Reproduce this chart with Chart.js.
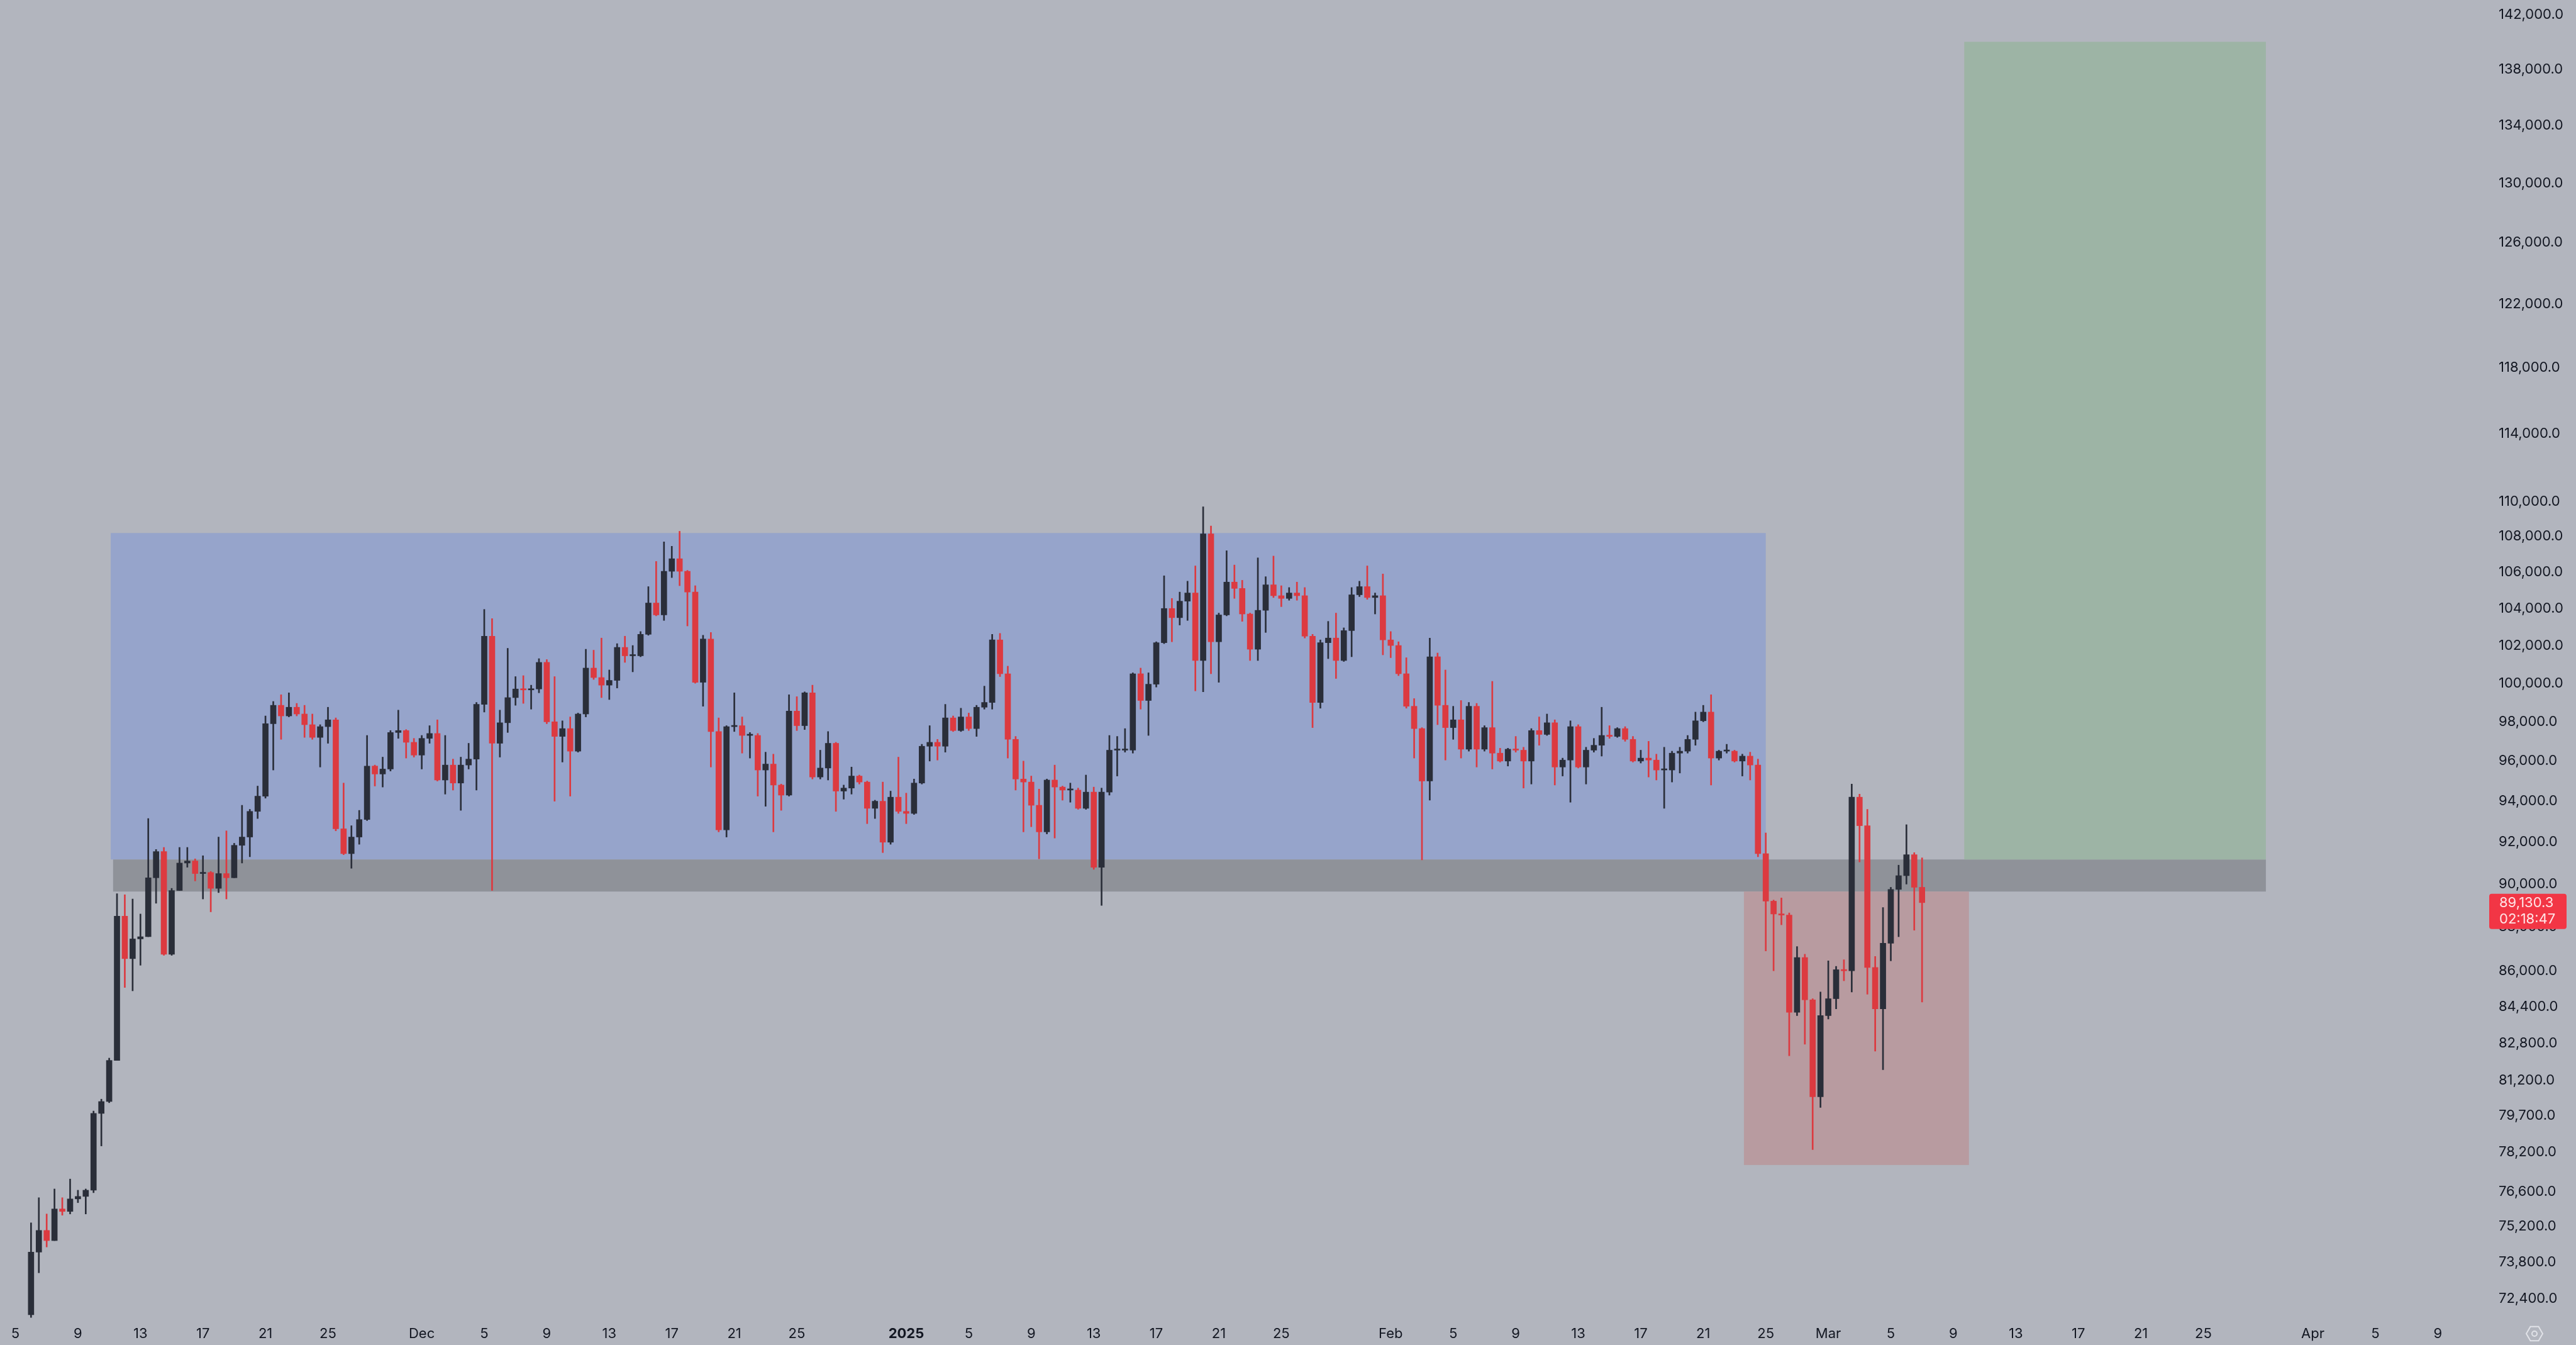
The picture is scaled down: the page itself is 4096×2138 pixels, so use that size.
<!DOCTYPE html>
<html>
<head>
<meta charset="utf-8">
<script src="https://cdn.jsdelivr.net/npm/chart.js@4.4.1/dist/chart.umd.min.js"></script>
<style>
  html, body { margin: 0; padding: 0; background: #b2b5be; }
  #wrap { width: 4096px; height: 2138px; position: relative; }
</style>
</head>
<body>
<div id="wrap"><canvas id="chart"></canvas></div>
<script>
// BTC/USD, 12h candles from Nov 6 2024 to Mar 7 2025. Open of each candle = previous close.
const firstOpen = 71800;
const firstDay = 5;      // days after Nov 1 2024 00:00
const stepDays = 0.5;

const novHigh = [75350,76350,75700,76700,76350,77100,76650,76700,79900,80400,
  82150,89550,89500,89300,88600,93150,91650,91750,89800,91750,
  91750,91200,91350,90600,92250,92550,91950,93800,93600,94750,
  98300,99050,99400,99500,98950,98850,98400,97850,98750,98200,
  94900,92800,93550,97300,95800,96200,97550,98600,97600,97150];
const novLow = [71700,73400,74400,74650,75650,75700,76150,75700,76550,78450,
  80250,82050,85250,85100,86250,87550,89100,86700,86700,89700,
  90800,90150,89300,88700,89600,89300,90300,91000,91300,93150,
  94150,95550,97100,98250,98300,97200,97100,95700,96900,92550,
  91400,90750,91900,93050,94750,94700,95500,97150,96150,96200];
const novClose = [74200,75050,74650,75900,75800,76300,76400,76650,79800,80300,
  82050,88500,86550,87450,87550,90300,91550,86750,89700,91000,
  91100,90500,90550,89800,90500,90300,91850,92250,93500,94250,
  97900,98850,98300,98750,98400,97850,97200,97750,98100,92650,
  91450,92250,93100,95750,95350,95600,97450,97550,96950,96300];

const decHigh = [97300,97800,98100,97300,96100,96200,96900,99000,103950,103450,
  98600,101850,100350,100400,99900,101300,101250,100350,98050,98250,
  98450,101800,101750,102400,100700,102100,102500,102000,102750,105200,
  106600,107700,107450,108300,106100,105250,102550,102700,98200,97800,
  99500,98250,97450,97400,96450,96350,94850,99400,99300,99550,
  99900,96550,97500,96950,94800,95700,95300,95000,94050,94950,
  94500,96200];
const decLow = [95600,96900,95000,94350,94550,93550,95600,94550,98500,89700,
  96200,97450,98850,98950,98650,99500,97900,94000,95950,94250,
  96450,98250,100200,99250,99150,99750,101100,100600,101400,102550,
  103600,103350,105700,105250,103050,100000,98800,95700,92500,92250,
  97500,96400,96150,94250,93750,92500,93550,94250,97550,97600,
  95100,95100,95050,93500,94100,94350,94850,92900,93150,91500,
  91900,93400];
const decClose = [97150,97400,95050,95800,94900,95800,96100,98900,102500,96900,
  97950,99250,99700,99650,99700,101100,98000,97250,97650,96500,
  98400,100800,100300,99900,100150,101900,101450,101450,102600,104300,
  103650,106050,106750,106050,104900,100050,102350,97500,92600,97750,
  97800,97300,97300,95550,95850,94800,94300,98550,97800,99500,
  95200,95650,96900,94500,94650,95250,94950,93650,94000,92000,
  94200,93500];

const janHigh = [94400,95100,96850,97800,97100,98900,98300,98700,98450,98850,
  99850,102600,102650,100900,97250,96000,95250,94600,95100,95800,
  94750,94900,94650,95300,94700,94650,97300,97250,97650,100550,
  100800,100550,102200,105800,104550,104900,105500,106350,109700,108600,
  103750,107200,106400,105550,103750,106800,105750,106900,105250,105150,
  105450,105150,102600,102300,103300,103750,102950,105150,105500,106350,
  104850,105900];
const janLow = [92900,93350,94850,96000,96050,96450,97500,97500,97550,97250,
  98650,98650,100350,96150,94550,92500,92750,91200,92400,92200,
  94050,93950,93600,93600,90700,89000,94300,95250,96450,96400,
  98650,97300,99800,102100,102200,103100,103350,99600,99550,100500,
  100050,103600,104550,103300,101200,101200,102700,104600,104100,104450,
  104450,102400,97700,98700,101300,100250,101150,101400,104650,104500,
  103700,101500];
const janClose = [93400,94900,96750,96950,96750,98200,97550,98250,97650,98750,
  99000,102300,100500,97100,95100,94950,93800,92500,95050,94700,
  94550,94550,93650,94450,90800,94450,96550,96550,96550,100500,
  99100,99950,102150,104000,103500,104400,104850,101200,108150,102200,
  103650,105450,105100,103700,101800,103900,105300,104700,104550,104850,
  104700,102500,99000,102150,102400,101200,102800,104750,105200,104600,
  104700,102300];

const febHigh = [102750,102200,101350,99200,97700,102400,101600,100700,98800,99100,
  99000,98950,97800,100100,96650,96650,97250,96700,97650,98250,
  98400,98100,96150,98050,97850,96700,97150,98750,97800,97700,
  97750,97250,96550,97000,96350,96700,96500,96700,97300,98500,
  98850,99400,96550,96850,96550,96350,96450,96100,92450,89250,
  89350,88650,87100,86750,84750,85050];
const febLow = [101350,100400,98700,96150,91150,94050,97850,96050,97100,96150,
  96500,95700,96500,95600,95950,95750,96450,94650,94850,96800,
  97300,94800,95250,93950,95650,94850,96450,96250,97150,97200,
  97000,95950,95900,95200,95050,93650,94950,95400,96400,96800,
  98000,94800,96050,96400,95950,95250,95050,91300,86900,86000,
  88100,82250,84000,82750,78300,80050];
const febClose = [102000,100500,98800,97650,95000,101400,98850,97700,98100,96600,
  98800,96600,97700,96400,96000,96600,96550,96000,97550,97350,
  97950,95700,96050,97750,95700,96550,96800,97300,97250,97650,
  97100,96000,96150,96050,95550,95550,96400,96500,97100,98050,
  98500,96150,96500,96500,96000,96250,95800,91450,89200,88600,
  88550,84150,86600,84700,80500,84000];

const marHigh = [86450,86200,86500,94850,94350,93600,86650,88900,89850,90900,92850,91500,91250];
const marLow = [83850,84300,85550,85050,91050,84950,82450,81650,86450,87550,90000,87850,84600];
const marClose = [84750,86050,86000,94200,92800,86150,84300,87250,89750,90400,91400,89850,89130.3];

// last price tag
const lastPriceText = '89,130.3';
const countdownText = '02:18:47';

// drawn zones (time in days after Nov 1 2024, prices in USD)
const zoneStart = [10.1, 10.25, 114.6, 128.7];
const zoneEnd = [116.0, 148.0, 129.0, 148.0];
const zoneLow = [91170, 89650, 77670, 91170];
const zoneHigh = [108200, 91170, 89650, 140000];

// axis ticks
const priceTicks = [142000, 138000, 134000, 130000, 126000, 122000, 118000, 114000, 110000,
  108000, 106000, 104000, 102000, 100000, 98000, 96000, 94000, 92000, 90000, 88000,
  86000, 84400, 82800, 81200, 79700, 78200, 76600, 75200, 73800, 72400];
const dateTickDays = [4, 8, 12, 16, 20, 24, 30, 34, 38, 42, 46, 50, 54, 61, 65, 69, 73, 77, 81, 85,
  92, 96, 100, 104, 108, 112, 116, 120, 124, 128, 132, 136, 140, 144, 151, 155, 159];
const dateTickLabels = ['5', '9', '13', '17', '21', '25', 'Dec', '5', '9', '13', '17', '21', '25',
  '2025', '5', '9', '13', '17', '21', '25', 'Feb', '5', '9', '13', '17', '21', '25',
  'Mar', '5', '9', '13', '17', '21', '25', 'Apr', '5', '9'];

// visible window
const viewStart = 3.014, viewEnd = 162.29;
const priceMin = 71611, priceMax = 143105;

// colors
const upColor = '#2a2e39';
const downColor = '#dc3a40';
const zoneColors = ['#96a4cb', '#8f9299', '#b89ba0', '#9db4a5'];
const bgColor = '#b2b5be';
const textColor = '#131722';

const highs = [].concat(novHigh, decHigh, janHigh, febHigh, marHigh);
const lows = [].concat(novLow, decLow, janLow, febLow, marLow);
const closes = [].concat(novClose, decClose, janClose, febClose, marClose);

const candles = closes.map((c, i) => ({
    t: firstDay + i * stepDays,
    o: i === 0 ? firstOpen : closes[i - 1],
    h: highs[i],
    l: lows[i],
    c: c
}));
const candleColors = candles.map(k => k.c >= k.o ? upColor : downColor);

const bgPlugin = {
    id: 'bg',
    beforeDraw(chart) {
        const ctx = chart.ctx;
        ctx.save();
        ctx.fillStyle = bgColor;
        ctx.fillRect(0, 0, chart.width, chart.height);
        ctx.restore();
    }
};

const zonePlugin = {
    id: 'zones',
    beforeDatasetsDraw(chart) {
        const { ctx, chartArea, scales: { x, y } } = chart;
        ctx.save();
        ctx.beginPath();
        ctx.rect(chartArea.left, chartArea.top, chartArea.width, chartArea.height);
        ctx.clip();
        zoneStart.forEach((s, i) => {
            const x0 = x.getPixelForValue(s);
            const x1 = x.getPixelForValue(zoneEnd[i]);
            const y0 = y.getPixelForValue(zoneHigh[i]);
            const y1 = y.getPixelForValue(zoneLow[i]);
            ctx.fillStyle = zoneColors[i];
            ctx.fillRect(x0, y0, x1 - x0, y1 - y0);
        });
        ctx.restore();
    }
};

const priceTagPlugin = {
    id: 'priceTag',
    afterDraw(chart) {
        const { ctx, chartArea, scales: { y } } = chart;
        const last = candles[candles.length - 1];
        const py = y.getPixelForValue(last.c);
        const left = chartArea.right;
        ctx.save();
        ctx.fillStyle = '#f23645';
        ctx.beginPath();
        ctx.roundRect(left, py - 14, 123, 56, 4);
        ctx.fill();
        ctx.fillStyle = '#ffe4e6';
        ctx.font = '22px Inter';
        ctx.textAlign = 'left';
        ctx.textBaseline = 'middle';
        ctx.fillText(lastPriceText, left + 16, py + 1);
        ctx.fillText(countdownText, left + 16, py + 27);

        // settings icon in the corner
        const cx = left + 72, cy = chart.height - 18, r = 13;
        ctx.strokeStyle = 'rgba(240,242,246,0.75)';
        ctx.lineWidth = 2;
        ctx.beginPath();
        for (let k = 0; k < 6; k++) {
            const a = Math.PI / 3 * k;
            const px = cx + r * Math.cos(a), pyy = cy + r * Math.sin(a);
            if (k === 0) ctx.moveTo(px, pyy); else ctx.lineTo(px, pyy);
        }
        ctx.closePath();
        ctx.stroke();
        ctx.beginPath();
        ctx.arc(cx, cy, 4, 0, Math.PI * 2);
        ctx.stroke();
        ctx.restore();
    }
};

new Chart(document.getElementById('chart').getContext('2d'), {
    type: 'bar',
    data: {
        datasets: [
            {
                label: 'body',
                data: candles.map(k => ({ x: k.t, y: [k.o, k.c] })),
                backgroundColor: candleColors,
                barThickness: 9,
                minBarLength: 2,
                grouped: false,
                order: 0
            },
            {
                label: 'wick',
                data: candles.map(k => ({ x: k.t, y: [k.l, k.h] })),
                backgroundColor: candleColors,
                barThickness: 2,
                grouped: false,
                order: 1
            }
        ]
    },
    options: {
        animation: false,
        responsive: true,
        maintainAspectRatio: false,
        devicePixelRatio: 1,
        layout: { padding: 0 },
        plugins: {
            legend: { display: false },
            tooltip: { enabled: false }
        },
        scales: {
            x: {
                type: 'linear',
                min: viewStart,
                max: viewEnd,
                offset: false,
                grid: { display: false, drawTicks: false },
                border: { display: false },
                afterBuildTicks: s => { s.ticks = dateTickDays.map(v => ({ value: v })); },
                afterFit: s => { s.height = 40; s.paddingLeft = 0; s.paddingRight = 0; },
                ticks: {
                    autoSkip: false,
                    maxRotation: 0,
                    padding: 9,
                    color: textColor,
                    font: ctx => ({
                        family: 'Inter',
                        size: 22,
                        weight: dateTickLabels[ctx.index] === '2025' ? 'bold' : 'normal'
                    }),
                    callback: (v, i) => dateTickLabels[i]
                }
            },
            y: {
                type: 'logarithmic',
                position: 'right',
                min: priceMin,
                max: priceMax,
                bounds: 'data',
                grid: { display: false, drawTicks: false },
                border: { display: false },
                afterBuildTicks: s => { s.ticks = priceTicks.map(v => ({ value: v })); },
                afterFit: s => { s.width = 138; s.paddingTop = 0; s.paddingBottom = 0; },
                ticks: {
                    autoSkip: false,
                    crossAlign: 'near',
                    padding: 15,
                    color: textColor,
                    font: { family: 'Inter', size: 22 },
                    callback: v => Number(v).toLocaleString('en-US', { minimumFractionDigits: 1, maximumFractionDigits: 1 })
                }
            }
        }
    },
    plugins: [bgPlugin, zonePlugin, priceTagPlugin]
});
</script>
</body>
</html>
